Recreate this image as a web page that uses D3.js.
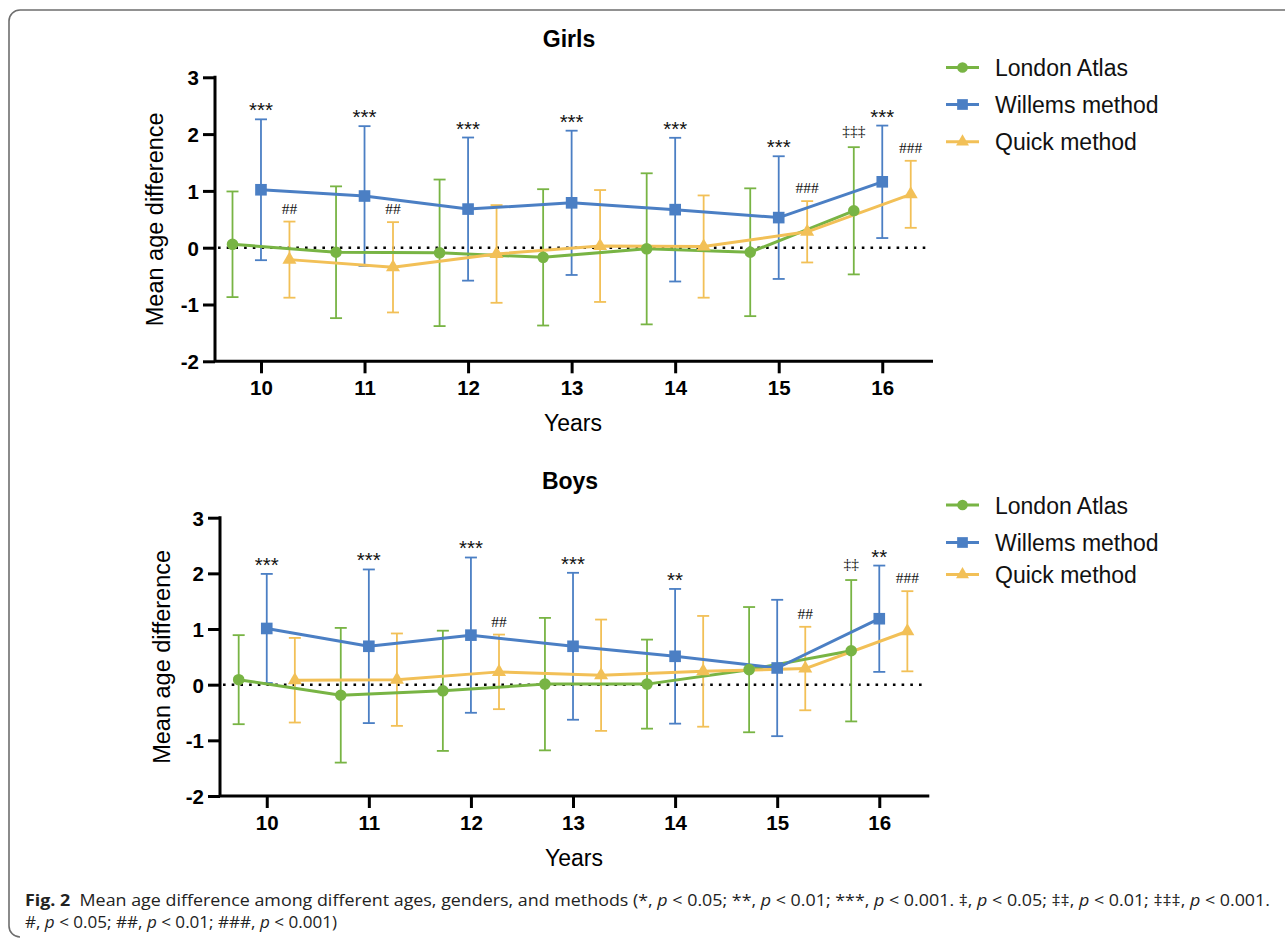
<!DOCTYPE html>
<html>
<head>
<meta charset="utf-8">
<script src="https://cdn.jsdelivr.net/npm/d3@7"></script>
<style>
  html, body { margin: 0; padding: 0; background: #fff; }
  svg { display: block; }
</style>
</head>
<body>
<svg id="chart" width="1285" height="938"></svg>
<script>
// ---------- DATA ----------
const years = [10, 11, 12, 13, 14, 15, 16];
const yTicks = [-2, -1, 0, 1, 2, 3];
const seriesNames = ["London Atlas", "Willems method", "Quick method"];

// Girls
const girlsLondonMean = [0.06, -0.08, -0.09, -0.17, -0.02, -0.08, 0.65];
const girlsLondonSD   = [0.93, 1.16, 1.29, 1.20, 1.33, 1.125, 1.12];
const girlsWillemsMean = [1.02, 0.91, 0.68, 0.79, 0.67, 0.53, 1.16];
const girlsWillemsSD   = [1.24, 1.23, 1.26, 1.27, 1.265, 1.08, 0.99];
const girlsQuickMean = [-0.21, -0.345, -0.11, 0.03, 0.02, 0.28, 0.94];
const girlsQuickSD   = [0.67, 0.795, 0.86, 0.985, 0.90, 0.54, 0.59];
const girlsLondonSig  = ["", "", "", "", "", "", "‡‡‡"];
const girlsWillemsSig = ["***", "***", "***", "***", "***", "***", "***"];
const girlsQuickSig   = ["##", "##", "", "", "", "###", "###"];

// Boys
const boysLondonMean = [0.09, -0.19, -0.11, 0.01, 0.01, 0.27, 0.61];
const boysLondonSD   = [0.80, 1.21, 1.08, 1.19, 0.80, 1.125, 1.27];
const boysWillemsMean = [1.01, 0.69, 0.89, 0.69, 0.51, 0.30, 1.185];
const boysWillemsSD   = [0.98, 1.38, 1.395, 1.32, 1.21, 1.225, 0.955];
const boysQuickMean = [0.08, 0.09, 0.23, 0.17, 0.24, 0.29, 0.96];
const boysQuickSD   = [0.76, 0.83, 0.67, 1.00, 0.995, 0.75, 0.72];
const boysLondonSig  = ["", "", "", "", "", "", "‡‡"];
const boysWillemsSig = ["***", "***", "***", "***", "**", "", "**"];
const boysQuickSig   = ["", "", "##", "", "", "##", "###"];

// ---------- STYLE ----------
const colors = ["#78b444", "#4b7fc4", "#f2c057"];
const symbols = [d3.symbolCircle, d3.symbolSquare, d3.symbolTriangle];
const symSizes = [105, 135, 85];
const xOffsets = [-0.275, 0, 0.275];
const FONT = "'Liberation Sans', Arial, Helvetica, sans-serif";
const SERIF = "'Liberation Serif', 'Times New Roman', serif";

const svg = d3.select("#chart");

// Frame border
svg.append("path")
  .attr("d", "M 1292,10 H 20 A 11 11 0 0 0 9 21 V 926 A 11 11 0 0 0 20 937")
  .attr("fill", "none").attr("stroke", "#6e6e6e").attr("stroke-width", 1.6);

function drawPanel(cfg) {
  const g = svg.append("g");
  const x = d3.scaleLinear().domain(cfg.xDomain).range([cfg.left, cfg.right]);
  const y = d3.scaleLinear().domain([-2, 3]).range([cfg.bottom, cfg.top]);

  // zero dotted line
  g.append("line")
    .attr("x1", cfg.left + 3).attr("x2", cfg.right - 6)
    .attr("y1", y(0)).attr("y2", y(0))
    .attr("stroke", "#000").attr("stroke-width", 2.6)
    .attr("stroke-dasharray", "2.6,6.1");

  // axes
  const yAxis = d3.axisLeft(y).tickValues(yTicks).tickSize(12).tickPadding(4)
    .tickFormat(d => d3.format("d")(d).replace("−", "-"));
  const yg = g.append("g").attr("transform", `translate(${cfg.left},0)`).call(yAxis);
  const xAxis = d3.axisBottom(x).tickValues(years).tickSize(12).tickPadding(7).tickFormat(d3.format("d"));
  const xg = g.append("g").attr("transform", `translate(0,${cfg.bottom})`).call(xAxis);
  [yg, xg].forEach(ax => {
    ax.attr("font-size", null).attr("font-family", null);
    ax.select(".domain").remove();
    ax.selectAll(".tick line").attr("stroke", "#000").attr("stroke-width", 3);
    ax.selectAll(".tick text").attr("fill", "#000")
      .style("font-family", FONT).style("font-size", "20.5px").style("font-weight", "bold");
  });
  yg.selectAll(".tick text").attr("dy", "0.36em");
  // axis lines
  g.append("path")
    .attr("d", `M ${cfg.left},${cfg.top - 1.5} V ${cfg.bottom} H ${cfg.right}`)
    .attr("fill", "none").attr("stroke", "#000").attr("stroke-width", 3)
    .attr("stroke-linejoin", "miter");

  const series = cfg.series;
  // error bars
  series.forEach((s, i) => {
    const eg = g.append("g").attr("stroke", colors[i]).attr("stroke-width", 1.8).attr("fill", "none");
    years.forEach((yr, j) => {
      const cx = x(yr + xOffsets[i]);
      const hi = y(s.mean[j] + s.sd[j]), lo = y(s.mean[j] - s.sd[j]);
      eg.append("line").attr("x1", cx).attr("x2", cx).attr("y1", hi).attr("y2", lo);
      eg.append("line").attr("x1", cx - 6).attr("x2", cx + 6).attr("y1", hi).attr("y2", hi);
      eg.append("line").attr("x1", cx - 6).attr("x2", cx + 6).attr("y1", lo).attr("y2", lo);
    });
  });
  // lines
  series.forEach((s, i) => {
    const line = d3.line().x((d, j) => x(years[j] + xOffsets[i])).y(d => y(d));
    g.append("path").datum(s.mean).attr("d", line)
      .attr("fill", "none").attr("stroke", colors[i]).attr("stroke-width", 3)
      .attr("stroke-linejoin", "round");
  });
  // markers
  series.forEach((s, i) => {
    g.selectAll(null).data(s.mean).enter().append("path")
      .attr("d", d3.symbol().type(symbols[i]).size(symSizes[i]))
      .attr("transform", (d, j) => `translate(${x(years[j] + xOffsets[i])},${y(d)})`)
      .attr("fill", colors[i]);
  });
  // significance labels
  series.forEach((s, i) => {
    s.sig.forEach((lab, j) => {
      if (!lab) return;
      const cx = x(years[j] + xOffsets[i]);
      const cap = y(s.mean[j] + s.sd[j]);
      const isStar = lab.indexOf("*") >= 0;
      const isDagger = lab.indexOf("‡") >= 0;
      g.append("text")
        .attr("x", cx)
        .attr("y", isStar ? cap - 2 : (isDagger ? cap - 11 : cap - 8))
        .attr("text-anchor", "middle")
        .style("font-family", isStar ? FONT : SERIF)
        .style("font-size", isStar ? "20.5px" : "15.5px")
        .attr("fill", "#111")
        .text(lab);
    });
  });

  // titles
  g.append("text").attr("x", cfg.titleX).attr("y", cfg.titleY)
    .attr("text-anchor", "middle").style("font-family", FONT)
    .style("font-size", "23px").style("font-weight", "bold").text(cfg.title);
  g.append("text").attr("x", cfg.titleX + 4).attr("y", cfg.bottom + 70)
    .attr("text-anchor", "middle").style("font-family", FONT)
    .style("font-size", "23px").text("Years");
  g.append("text")
    .attr("transform", `translate(${cfg.yTitleX},${(cfg.top + cfg.bottom) / 2}) rotate(-90)`)
    .attr("text-anchor", "middle").style("font-family", FONT)
    .style("font-size", "23.5px").text("Mean age difference");

  // legend
  const lg = g.append("g");
  cfg.legendY.forEach((ly, i) => {
    lg.append("line").attr("x1", 946).attr("x2", 979).attr("y1", ly).attr("y2", ly)
      .attr("stroke", colors[i]).attr("stroke-width", 3);
    lg.append("path").attr("d", d3.symbol().type(symbols[i]).size(symSizes[i] * 0.85))
      .attr("transform", `translate(962.5,${ly})`).attr("fill", colors[i]);
    lg.append("text").attr("x", 995).attr("y", ly + 8.5)
      .style("font-family", FONT).style("font-size", "23px").attr("fill", "#111")
      .text(seriesNames[i]);
  });
}

drawPanel({
  left: 215, right: 933, top: 77.3, bottom: 361.3,
  xDomain: [9.556, 16.49],
  title: "Girls", titleX: 569, titleY: 47, yTitleX: 163,
  legendY: [67.5, 104.5, 141.7],
  series: [
    { mean: girlsLondonMean, sd: girlsLondonSD, sig: girlsLondonSig },
    { mean: girlsWillemsMean, sd: girlsWillemsSD, sig: girlsWillemsSig },
    { mean: girlsQuickMean, sd: girlsQuickSD, sig: girlsQuickSig }
  ]
});

drawPanel({
  left: 220, right: 929.3, top: 517.7, bottom: 796,
  xDomain: [9.542, 16.49],
  title: "Boys", titleX: 570, titleY: 488.5, yTitleX: 170,
  legendY: [505, 542.5, 574.5],
  series: [
    { mean: boysLondonMean, sd: boysLondonSD, sig: boysLondonSig },
    { mean: boysWillemsMean, sd: boysWillemsSD, sig: boysWillemsSig },
    { mean: boysQuickMean, sd: boysQuickSD, sig: boysQuickSig }
  ]
});

// caption
const CAP = "'Open Sans', 'Noto Sans', sans-serif";
const cap1 = svg.append("text").attr("x", 25).attr("y", 906)
  .style("font-family", CAP).style("font-size", "16.5px").attr("fill", "#222")
  .attr("textLength", 1245).attr("lengthAdjust", "spacingAndGlyphs");
const parts1 = [
  ["Fig. 2", "b"], ["  Mean age difference among different ages, genders, and methods (*, ", ""],
  ["p", "i"], [" < 0.05; **, ", ""], ["p", "i"], [" < 0.01; ***, ", ""], ["p", "i"],
  [" < 0.001. ‡, ", ""], ["p", "i"], [" < 0.05; ‡‡, ", ""], ["p", "i"], [" < 0.01; ‡‡‡, ", ""],
  ["p", "i"], [" < 0.001.", ""]
];
parts1.forEach(([t, s]) => {
  const ts = cap1.append("tspan").text(t);
  if (s === "b") ts.style("font-weight", "bold");
  if (s === "i") ts.style("font-style", "italic");
});
const cap2 = svg.append("text").attr("x", 25).attr("y", 928)
  .style("font-family", CAP).style("font-size", "16.5px").attr("fill", "#222")
  .attr("textLength", 312).attr("lengthAdjust", "spacingAndGlyphs");
const parts2 = [["#, ", ""], ["p", "i"], [" < 0.05; ##, ", ""], ["p", "i"], [" < 0.01; ###, ", ""], ["p", "i"], [" < 0.001)", ""]];
parts2.forEach(([t, s]) => {
  const ts = cap2.append("tspan").text(t);
  if (s === "i") ts.style("font-style", "italic");
});
svg.selectAll("text").style("white-space", "pre");
</script>
</body>
</html>
